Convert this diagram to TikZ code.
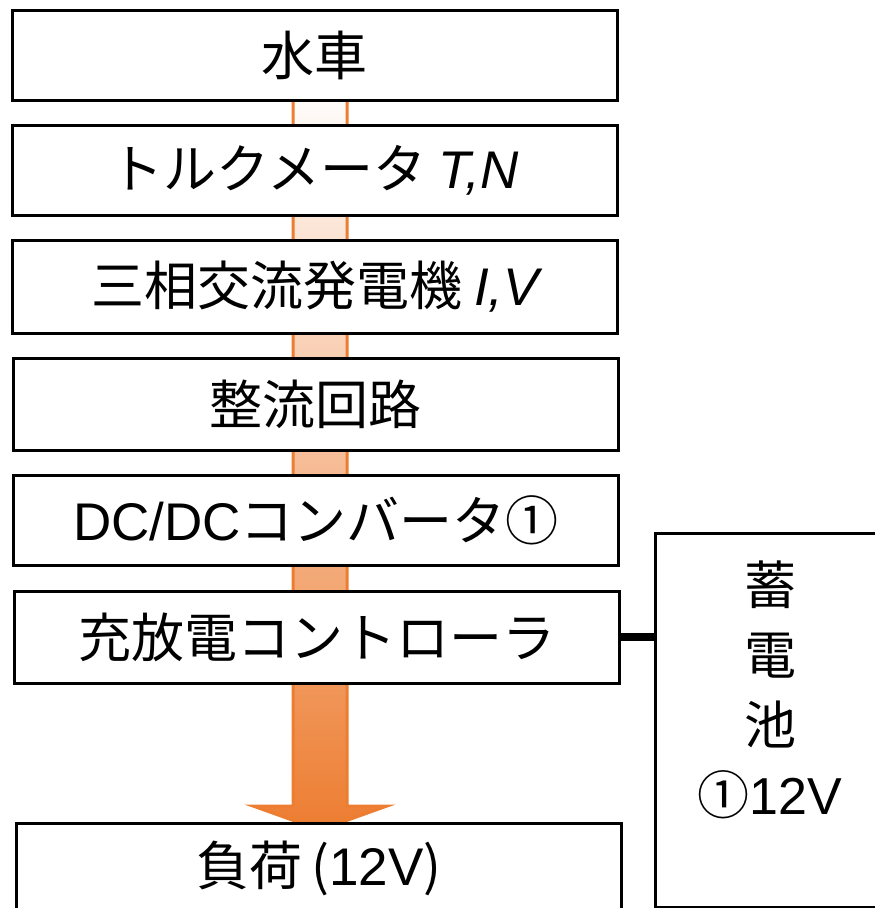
\documentclass[tikz,border=0pt]{standalone}
\usepackage{fontspec}
\usetikzlibrary{calc}
\setmainfont{Noto Sans CJK JP}
\newfontfamily\lat{Liberation Sans}
\definecolor{arrowor}{HTML}{ED7D31}
\begin{document}
\begin{tikzpicture}[x=1pt,y=-1pt,
  box/.style={draw=black, line width=3pt, fill=white, minimum width=605pt, inner sep=0pt, font=\fontsize{53}{60}\selectfont},
  lbl/.style={font=\fontsize{52}{60}\selectfont, inner sep=0pt}]
\useasboundingbox (0,0) rectangle (875,908);
% block arrow behind the boxes
\coordinate (atop) at (320,80);
\coordinate (atip) at (320,830);
\path[top color=white, bottom color=arrowor, draw=arrowor, line width=3pt]
  ($(atop)+(-27,0)$) -- ($(atip)+(-27,-24)$) -- ($(atip)+(-67,-24)$) -- (atip)
  -- ($(atip)+(67,-24)$) -- ($(atip)+(27,-24)$) -- ($(atop)+(27,0)$) -- cycle;
% boxes
\node[box, minimum height=90pt]  (b1) at (314.5,55)  {水車};
\node[box, minimum height=90pt]  (b2) at (314.5,170) {トルクメータ {\lat\itshape T,N}};
\node[box, minimum height=93pt]  (b3) at (315,286.5) {三相交流発電機 {\lat\itshape I,V}};
\node[box, minimum height=92pt]  (b4) at (315.5,404) {整流回路};
\node[box, minimum height=90pt]  (b5) at (316,520)   {{\lat DC/DC}コンバータ①};
\node[box, minimum height=92pt]  (b6) at (317,637)   {充放電コントローラ};
\node[box, minimum height=90pt]  (b7) at (319,868)   {負荷\,({\lat 12V})};
\node[draw=black, line width=3pt, fill=white, minimum width=260pt, minimum height=374pt, anchor=north west, inner sep=0pt] (bat) at (654,532) {};
\node[lbl, align=center, font=\fontsize{52}{70}\selectfont] (battxt) at (770,690) {蓄\\電\\池\\①{\lat 12V}};
% connector
\draw[line width=8pt] (b6.east) -- (b6.east -| bat.west);
\end{tikzpicture}
\end{document}
